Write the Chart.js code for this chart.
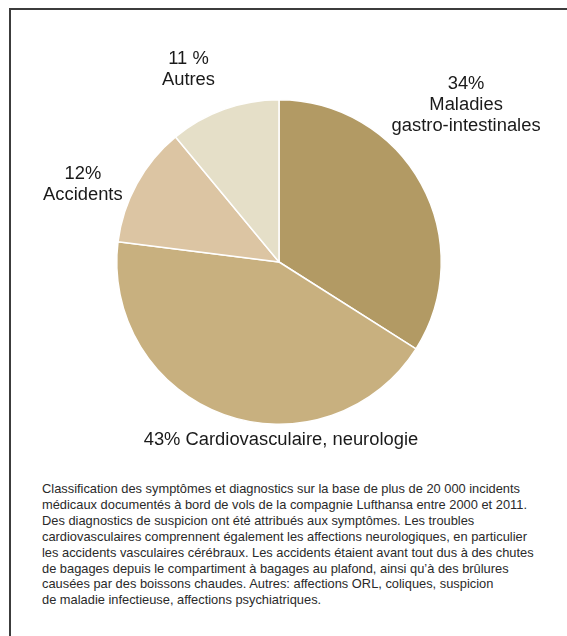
<!DOCTYPE html>
<html>
<head>
<meta charset="utf-8">
<script src="https://cdn.jsdelivr.net/npm/chart.js@4.4.1/dist/chart.umd.min.js"></script>
<style>
  html, body { margin: 0; padding: 0; background: #fff; overflow: hidden; }
  body { width: 567px; height: 636px; position: relative;
         font-family: "Liberation Sans", Arial, sans-serif; }
  #filetH { position: absolute; left: 9px; top: 8px; width: 558px; height: 2px; background: #3c3c3c; }
  #filetV { position: absolute; left: 9px; top: 8px; width: 2px; height: 628px; background: #3c3c3c; }
  #zone { position: absolute; left: 20px; top: 20px; width: 530px; height: 440px; }
  #legende { position: absolute; left: 42px; top: 481px; width: 480px; transform-origin: 0 0;
             font-size: 13px; line-height: 15.9px; color: #2a2a2a; white-space: nowrap; }
</style>
</head>
<body>
<div id="filetH"></div>
<div id="filetV"></div>
<div id="zone"><canvas id="graficoPizza"></canvas></div>
<div id="legende">
<span id="linha1">Classification des symptômes et diagnostics sur la base de plus de 20 000 incidents</span><br>
<span>médicaux documentés à bord de vols de la compagnie Lufthansa entre 2000 et 2011.</span><br>
<span>Des diagnostics de suspicion ont été attribués aux symptômes. Les troubles</span><br>
<span>cardiovasculaires comprennent également les affections neurologiques, en particulier</span><br>
<span>les accidents vasculaires cérébraux. Les accidents étaient avant tout dus à des chutes</span><br>
<span>de bagages depuis le compartiment à bagages au plafond, ainsi qu’à des brûlures</span><br>
<span>causées par des boissons chaudes. Autres: affections ORL, coliques, suspicion</span><br>
<span>de maladie infectieuse, affections psychiatriques.</span>
</div>
<script>
const categorias = ['Maladies gastro-intestinales', 'Cardiovasculaire, neurologie', 'Accidents', 'Autres'];
const valores = [34, 43, 12, 11];
const rotulos = [
  ['34%', 'Maladies', 'gastro-intestinales'],
  ['43% Cardiovasculaire, neurologie'],
  ['12%', 'Accidents'],
  ['11 %', 'Autres']
];
const cores = ['#b29a64', '#c8b07f', '#dcc5a3', '#e5dfc8'];

// position des textes, en rayons depuis le centre du camembert
const posRotulos = [[1.153, -0.97], [0.012, 1.098], [-1.209, -0.479], [-0.558, -1.187]];

// police étroite simulée : on compresse horizontalement
const legende = document.getElementById('legende');
const largLinha = document.getElementById('linha1').getBoundingClientRect().width;
legende.style.transform = 'scaleX(' + (478 / largLinha) + ')';

const pluginRotulos = {
  id: 'rotulos',
  afterDraw(chart) {
    const ctx = chart.ctx;
    const arcos = chart.getDatasetMeta(0).data;
    ctx.save();
    ctx.font = '18px "Liberation Sans", Arial, sans-serif';
    ctx.fillStyle = '#1a1a1a';
    ctx.textAlign = 'center';
    ctx.textBaseline = 'middle';
    const f = 149 / ctx.measureText('gastro-intestinales').width;
    arcos.forEach((a, i) => {
      const r = a.outerRadius;
      const cx = a.x + posRotulos[i][0] * r;
      const cy = a.y + posRotulos[i][1] * r;
      const linhas = rotulos[i];
      const alt = 21;
      linhas.forEach((l, j) => {
        ctx.save();
        ctx.translate(cx, cy + (j - (linhas.length - 1) / 2) * alt);
        ctx.scale(f, 1);
        ctx.fillText(l, 0, 0);
        ctx.restore();
      });
    });
    ctx.restore();
  }
};

new Chart(document.getElementById('graficoPizza'), {
  type: 'pie',
  data: {
    labels: categorias,
    datasets: [{
      data: valores,
      backgroundColor: cores,
      borderColor: '#ffffff',
      borderWidth: 1.5
    }]
  },
  options: {
    responsive: true,
    maintainAspectRatio: false,
    animation: false,
    layout: { padding: { left: 96, top: 79, right: 108, bottom: 35 } },
    plugins: { legend: { display: false }, tooltip: { enabled: false } }
  },
  plugins: [pluginRotulos]
});
</script>
</body>
</html>
